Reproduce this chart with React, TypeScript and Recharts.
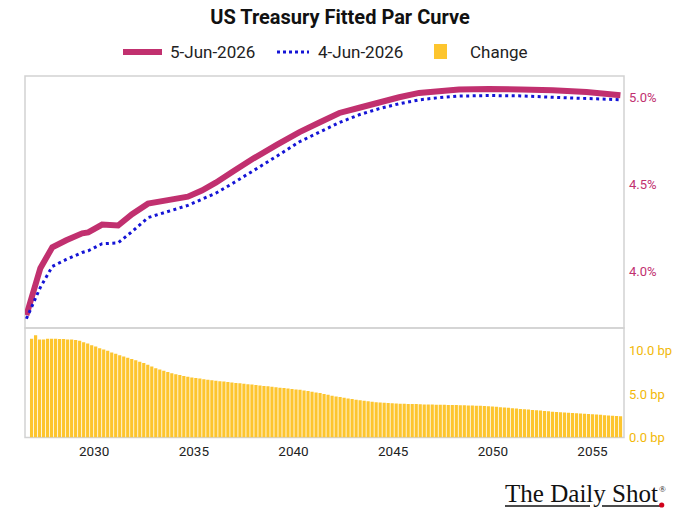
import React from "react";
import { LineChart, Line, XAxis, YAxis, ReferenceArea, BarChart, Bar } from "recharts";

const lineYears = [
  2026.6, 2027.3, 2027.9, 2028.6, 2029.4, 2029.7, 2030.4, 2031.2, 2031.9, 2032.7,
  2033.7, 2034.7, 2035.4, 2036.1, 2037.0, 2038.0, 2039.2, 2040.3, 2041.3, 2042.3,
  2043.3, 2044.3, 2045.3, 2046.3, 2047.3, 2048.3, 2049.8, 2051.4, 2053.0, 2054.7, 2056.4,
];
const jun5 = [
  3.75, 4.02, 4.14, 4.18, 4.22, 4.225, 4.27, 4.265, 4.33, 4.39,
  4.41, 4.43, 4.465, 4.51, 4.577, 4.65, 4.73, 4.80, 4.855, 4.91,
  4.94, 4.97, 5.0, 5.025, 5.035, 5.045, 5.048, 5.045, 5.04, 5.03, 5.012,
];
const jun4 = [
  3.73, 3.91, 4.03, 4.07, 4.11, 4.12, 4.16, 4.165, 4.23, 4.31,
  4.345, 4.38, 4.415, 4.45, 4.51, 4.58, 4.665, 4.745, 4.80, 4.855,
  4.90, 4.935, 4.963, 4.985, 4.998, 5.007, 5.01, 5.008, 5.0, 4.993, 4.986,
];

const changeBp = [
  11.4, 11.8, 11.3, 11.3, 11.4, 11.4, 11.4, 11.35, 11.35, 11.3,
  11.3, 11.25, 11.15, 11.0, 10.85, 10.65, 10.5, 10.3, 10.15, 10.0,
  9.8, 9.65, 9.5, 9.35, 9.2, 9.05, 8.9, 8.75, 8.6, 8.4,
  8.2, 8.0, 7.85, 7.7, 7.55, 7.42, 7.3, 7.2, 7.1, 7.0,
  6.92, 6.85, 6.8, 6.72, 6.65, 6.6, 6.55, 6.5, 6.45, 6.4,
  6.35, 6.3, 6.25, 6.2, 6.15, 6.1, 6.05, 6.0, 5.95, 5.9,
  5.85, 5.8, 5.75, 5.7, 5.65, 5.6, 5.55, 5.5, 5.42, 5.35,
  5.27, 5.2, 5.12, 5.02, 4.92, 4.82, 4.74, 4.66, 4.58, 4.5,
  4.43, 4.36, 4.3, 4.24, 4.18, 4.13, 4.08, 4.04, 4.0, 3.97,
  3.94, 3.92, 3.9, 3.88, 3.87, 3.86, 3.85, 3.84, 3.82, 3.81,
  3.8, 3.79, 3.78, 3.77, 3.76, 3.75, 3.74, 3.72, 3.71, 3.7,
  3.69, 3.67, 3.65, 3.63, 3.6, 3.57, 3.54, 3.5, 3.46, 3.42,
  3.38, 3.34, 3.3, 3.26, 3.22, 3.18, 3.14, 3.1, 3.06, 3.02,
  2.98, 2.94, 2.91, 2.88, 2.85, 2.82, 2.79, 2.76, 2.73, 2.7,
  2.67, 2.64, 2.61, 2.58, 2.55, 2.52, 2.49, 2.46,
];
const barStartYear = 2026.88;
const barStepYear = 0.201;

const xTicks = [2030, 2035, 2040, 2045, 2050, 2055];
const pctTicks = [4.0, 4.5, 5.0];
const bpTicks = [0, 5, 10];

const X_DOMAIN: [number, number] = [2026.53, 2056.58];
const PCT_DOMAIN: [number, number] = [3.677, 5.122];
const BP_DOMAIN: [number, number] = [0, 12.63];

const MAGENTA = "#C1306F";
const BLUE = "#1414D6";
const YELLOW = "#FDC52E";
const GOLD = "#F2B807";
const FRAME = "#d2d2d2";

const lineData = lineYears.map((year, i) => ({ year, jun5: jun5[i], jun4: jun4[i] }));
const barData = changeBp.map((v, i) => ({ year: barStartYear + i * barStepYear, change: v }));

const FONT = "Roboto, 'Noto Sans', sans-serif";

export default function App() {
  return (
    <div style={{ position: "relative", width: 680, height: 520, background: "#fff", fontFamily: FONT, overflow: "hidden" }}>
      <style>{"body{margin:0;background:#fff;}"}</style>
      <div
        style={{
          position: "absolute",
          left: 0,
          top: 5,
          width: 680,
          textAlign: "center",
          fontSize: 20,
          fontWeight: 700,
          color: "#111",
          lineHeight: "24px",
        }}
      >
        US Treasury Fitted Par Curve
      </div>

      {/* legend */}
      <div style={{ position: "absolute", left: 123, top: 49, width: 39, height: 6, background: MAGENTA }} />
      <div style={{ position: "absolute", left: 170, top: 41, fontSize: 17, lineHeight: "22px", color: "#222" }}>5-Jun-2026</div>
      <svg style={{ position: "absolute", left: 276, top: 46 }} width={34} height={12}>
        <line x1={1} y1={6} x2={33} y2={6} stroke={BLUE} strokeWidth={3} strokeDasharray="3 3" />
      </svg>
      <div style={{ position: "absolute", left: 318, top: 41, fontSize: 17, lineHeight: "22px", color: "#222" }}>4-Jun-2026</div>
      <div style={{ position: "absolute", left: 434, top: 44, width: 13, height: 15, background: YELLOW }} />
      <div style={{ position: "absolute", left: 470, top: 41, fontSize: 17, lineHeight: "22px", color: "#222" }}>Change</div>

      {/* top panel */}
      <div style={{ position: "absolute", left: 0, top: 0 }}>
        <LineChart width={680} height={340} data={lineData} margin={{ top: 76, right: 0, left: 25, bottom: 12 }}>
          <XAxis type="number" dataKey="year" domain={X_DOMAIN} allowDataOverflow hide />
          <YAxis
            orientation="right"
            width={56}
            domain={PCT_DOMAIN}
            ticks={pctTicks}
            allowDataOverflow
            axisLine={false}
            tickLine={false}
            tickSize={2}
            tickMargin={3}
            tick={{ fill: MAGENTA, fontSize: 13 }}
            tickFormatter={(v: number) => `${v.toFixed(1)}%`}
          />
          <ReferenceArea
            x1={X_DOMAIN[0]}
            x2={X_DOMAIN[1]}
            y1={PCT_DOMAIN[0]}
            y2={PCT_DOMAIN[1]}
            fill="none"
            fillOpacity={0}
            stroke={FRAME}
            strokeWidth={1.5}
            ifOverflow="visible"
          />
          <Line type="linear" dataKey="jun5" stroke={MAGENTA} strokeWidth={6} dot={false} isAnimationActive={false} />
          <Line
            type="linear"
            dataKey="jun4"
            stroke={BLUE}
            strokeWidth={3}
            strokeDasharray="3 3.5"
            dot={false}
            isAnimationActive={false}
          />
        </LineChart>
      </div>

      {/* bottom panel */}
      <div style={{ position: "absolute", left: 0, top: 0 }}>
        <BarChart width={680} height={470} data={barData} margin={{ top: 328, right: 0, left: 25, bottom: 2.5 }} barCategoryGap={0}>
          <XAxis
            type="number"
            dataKey="year"
            domain={X_DOMAIN}
            allowDataOverflow
            ticks={xTicks}
            height={30}
            axisLine={false}
            tickLine={false}
            tickSize={6}
            tickMargin={3}
            tick={{ fill: "#222", fontSize: 13.5 }}
          />
          <YAxis
            orientation="right"
            width={56}
            domain={BP_DOMAIN}
            ticks={bpTicks}
            allowDataOverflow
            axisLine={false}
            tickLine={false}
            tickSize={2}
            tickMargin={3}
            tick={{ fill: GOLD, fontSize: 13 }}
            tickFormatter={(v: number) => `${v.toFixed(1)} bp`}
          />
          <ReferenceArea
            x1={X_DOMAIN[0]}
            x2={X_DOMAIN[1]}
            y1={BP_DOMAIN[0]}
            y2={BP_DOMAIN[1]}
            fill="none"
            fillOpacity={0}
            stroke={FRAME}
            strokeWidth={1.5}
            ifOverflow="visible"
          />
          <Bar dataKey="change" fill={YELLOW} barSize={3.2} isAnimationActive={false} />
        </BarChart>
      </div>

      {/* logo */}
      <svg style={{ position: "absolute", left: 500, top: 475 }} width={175} height={40}>
        <text
          x={5}
          y={26.7}
          fontFamily="'Liberation Serif', 'DejaVu Serif', serif"
          fontSize={25}
          fill="#111"
          textLength={153}
          lengthAdjust="spacingAndGlyphs"
        >
          The Daily Shot
        </text>
        <text x={159} y={17} fontFamily="'Liberation Serif', serif" fontSize={9} fill="#111">
          ®
        </text>
        <line x1={5} y1={31} x2={90} y2={31} stroke="#111" strokeWidth={1.5} />
        <line x1={102} y1={31} x2={161} y2={31} stroke="#111" strokeWidth={1.5} />
        <circle cx={161.7} cy={30} r={2.6} fill="#d0021b" />
      </svg>
    </div>
  );
}
